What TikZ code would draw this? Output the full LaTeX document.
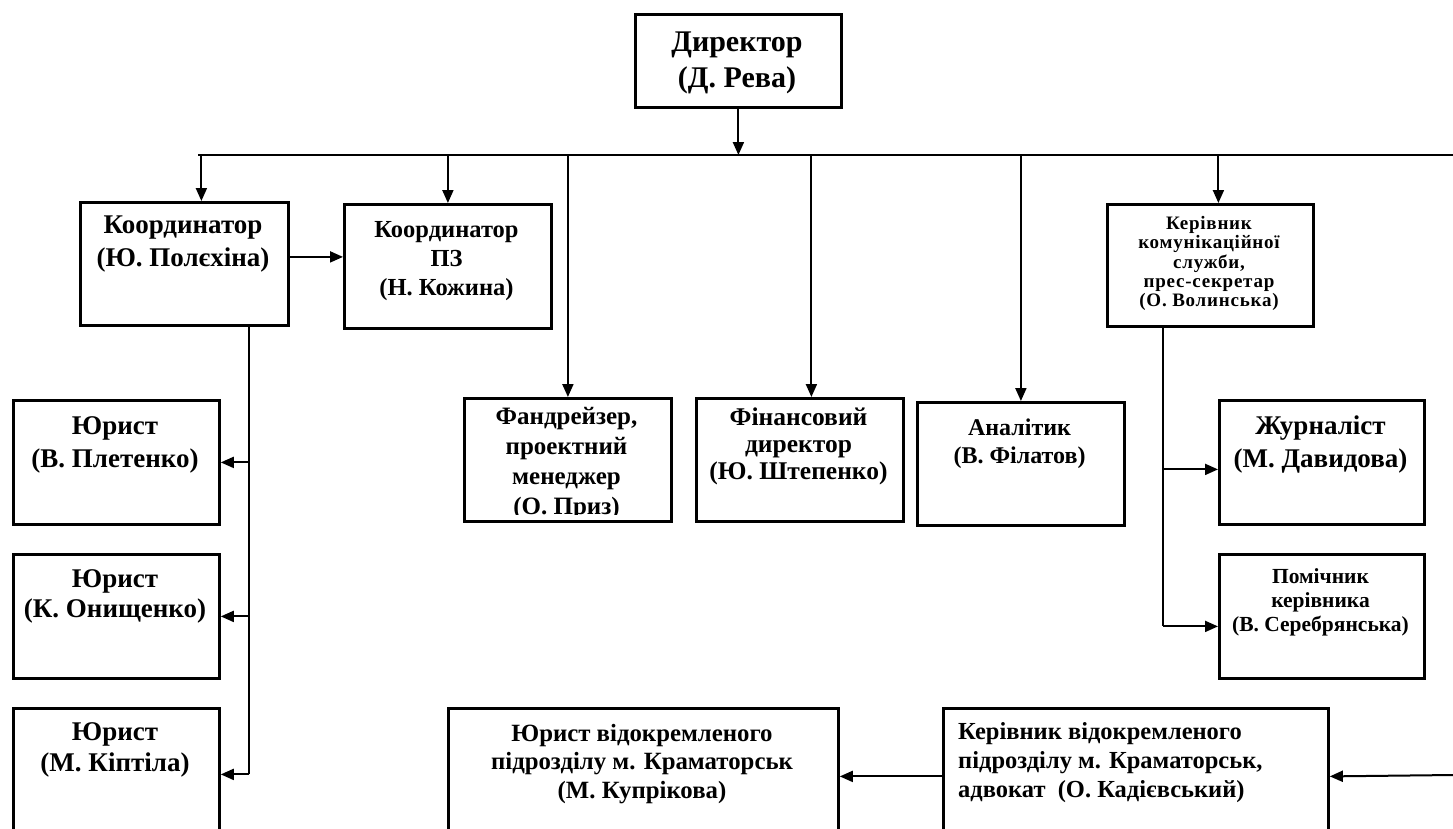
\documentclass[tikz,border=0pt]{standalone}
\usepackage{fontspec}
\setmainfont{Liberation Serif}
\newfontfamily\spcfont[LetterSpace=4]{Liberation Serif}
\usetikzlibrary{arrows.meta}
\newcommand\fsz[2]{\fontsize{#1}{#2}\selectfont}
\begin{document}
\begin{tikzpicture}[x=1pt,y=-1pt,
  box/.style={draw, line width=2.8pt, anchor=north west, inner sep=0pt},
  txt/.style={align=center, inner sep=0pt},
  conn/.style={line width=2pt},
  arr/.style={line width=2pt, -{Triangle[length=13pt,width=11pt]}},
]
\useasboundingbox[fill=white] (0,0) rectangle (1453,828);

% boxes
\node[box, minimum width=206, minimum height=93]  (dir)  at (634,13) {};
\node[box, minimum width=208, minimum height=123] (koord) at (79,201) {};
\node[box, minimum width=207, minimum height=124] (pz)   at (343,203) {};
\node[box, minimum width=207, minimum height=123] (fand) at (463,397) {};
\node[box, minimum width=207, minimum height=123] (fin)  at (695,397) {};
\node[box, minimum width=207, minimum height=123] (anal) at (916,401) {};
\node[box, minimum width=206, minimum height=122] (kom)  at (1106,203) {};
\node[box, minimum width=205, minimum height=124] (zhur) at (1218,399) {};
\node[box, minimum width=205, minimum height=124] (pom)  at (1218,553) {};
\node[box, minimum width=206, minimum height=124] (ur1)  at (12,399) {};
\node[box, minimum width=206, minimum height=124] (ur2)  at (12,553) {};
\node[box, minimum width=206, minimum height=132] (ur3)  at (12,707) {};
\node[box, minimum width=390, minimum height=136] (urk)  at (447,707) {};
\node[box, minimum width=385, minimum height=136] (kerk) at (942,707) {};

% texts
\node[txt, font=\bfseries\fsz{30}{36}] (tdir) at (737,63) {Директор\\(Д. Рева)};
\node[txt, font=\bfseries\fsz{27}{33}] (tkoord) at (183,244.5) {Координатор\\(Ю. Полєхіна)};
\node[txt, font=\bfseries\fsz{24.5}{29}] (tpz) at (446.5,261) {Координатор\\ПЗ\\(Н. Кожина)};
\begin{scope}
\clip (fand.north west) rectangle ([yshift=8pt]fand.south east);
\node[txt, font=\bfseries\fsz{25}{30}] (tfand) at (566.5,464) {Фандрейзер,\\проектний\\менеджер\\(О. Приз)};
\end{scope}
\node[txt, font=\bfseries\fsz{25.5}{27}] (tfin) at (798.5,446) {Фінансовий\\директор\\(Ю. Штепенко)};
\node[txt, font=\bfseries\fsz{24}{28}] (tanal) at (1019.5,444) {Аналітик\\(В. Філатов)};
\node[txt, font=\spcfont\bfseries\fsz{19}{19.3}] (tkom) at (1209,263.5) {Керівник\\комунікаційної\\служби,\\прес-секретар\\(О. Волинська)};
\node[txt, font=\bfseries\fsz{27}{33}] (tzhur) at (1320.5,444.5) {Журналіст\\(М. Давидова)};
\node[txt, font=\bfseries\fsz{21.5}{24}] (tpom) at (1320.5,602) {Помічник\\керівника\\(В. Серебрянська)};
\node[txt, font=\bfseries\fsz{27}{33}] (tur1) at (115,444.5) {Юрист\\(В. Плетенко)};
\node[txt, font=\bfseries\fsz{27}{30}] (tur2) at (115,596) {Юрист\\(К. Онищенко)};
\node[txt, font=\bfseries\fsz{27}{31}] (tur3) at (115,749.5) {Юрист\\(М. Кіптіла)};
\node[txt, font=\bfseries\fsz{24.8}{28.5}] (turk) at (642,764) {Юрист відокремленого\\підрозділу м. Краматорськ\\(М. Купрікова)};
\node[txt, align=left, anchor=west, font=\bfseries\fsz{24.5}{29}] (tkerk) at (958,763) {Керівник відокремленого\\підрозділу м. Краматорськ,\\адвокат\ \ (О. Кадієвський)};

% bus
\coordinate (busL) at (198,155);
\coordinate (busR) at (1453,155);
\draw[conn] (busL) -- (busR);
\draw[arr] (dir) -- (dir |- busL);

\draw[arr] ([xshift=17pt]koord.north |- busL) -- ([xshift=17pt]koord.north);
\draw[arr] (pz.north |- busL) -- (pz.north);
\draw[arr] (fand.north |- busL) -- (fand.north);
\draw[arr] ([xshift=11.5pt]fin.north |- busL) -- ([xshift=11.5pt]fin.north);
\draw[arr] (anal.north |- busL) -- (anal.north);
\draw[arr] ([xshift=8pt]kom.north |- busL) -- ([xshift=8pt]kom.north);

% coordinator -> PZ
\draw[arr] ([yshift=7pt]koord.east) -- ([yshift=7pt]koord.east -| pz.west);

% lawyers
\coordinate (kv) at ([xshift=65pt]koord.south);
\draw[conn] (kv) -- (kv |- ur3.east);
\draw[arr] (kv |- ur1.east) -- (ur1.east);
\draw[arr] (kv |- ur2.east) -- (ur2.east);
\draw[arr] (kv |- ur3.east) -- (ur3.east);

% communications
\coordinate (cv) at ([xshift=-47pt]kom.south);
\coordinate (zin) at ([yshift=-7pt]zhur.west);
\coordinate (pin) at ([yshift=-10pt]pom.west);
\draw[conn] (cv) -- (cv |- pin);
\draw[arr] (cv |- zin) -- (zin);
\draw[arr] (cv |- pin) -- (pin);

% Kramatorsk branch
\coordinate (rb) at (1453,775);
\draw[arr] (rb) -- (kerk.east);
\draw[arr] (kerk.west) -- (urk.east);
\end{tikzpicture}
\end{document}
